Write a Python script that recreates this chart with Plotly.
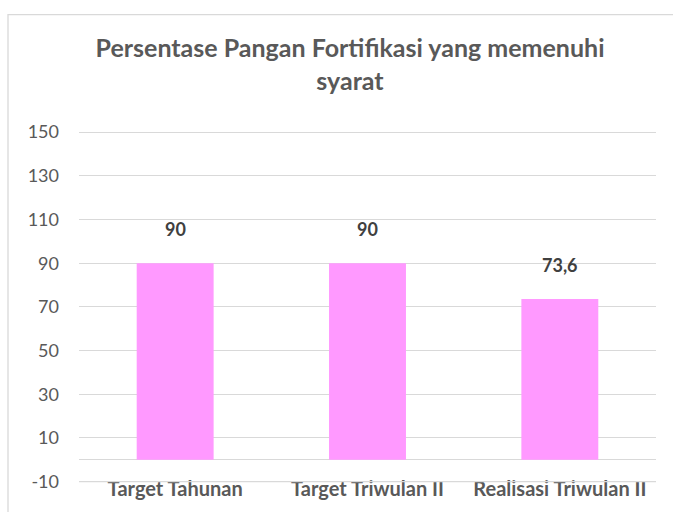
import plotly.graph_objects as go

categories = ["Target Tahunan", "Target Triwulan II", "Realisasi Triwulan II"]
values = [90, 90, 73.6]
y_ticks = [-10, 10, 30, 50, 70, 90, 110, 130, 150]
title_text = "Persentase Pangan Fortifikasi yang memenuhi<br>syarat"

FONT = "Lato"
GRID = "#D9D9D9"
fig = go.Figure()
fig.add_trace(go.Bar(
    x=categories, y=values, width=0.4,
    marker=dict(color="#FF99FF", line=dict(width=0)),
    hoverinfo="skip",
))

for c, v in zip(categories, values):
    fig.add_annotation(
        x=c, y=v, xref="x", yref="y",
        text=("%g" % v).replace(".", ","),
        showarrow=False, yanchor="middle", yshift=34,
        font=dict(family=FONT, size=18, color="#404040", weight="bold"),
    )

# outer chart border (extends beyond the visible image)
fig.add_shape(type="rect", xref="paper", yref="paper",
              x0=(8 - 79) / 577, x1=1.3, y0=-0.3, y1=(490.4 - 13) / 360.6,
              line=dict(color=GRID, width=1.3), fillcolor="rgba(0,0,0,0)",
              layer="below")
# make sure the lowest gridline is drawn
fig.add_shape(type="line", xref="paper", yref="y", x0=0, x1=1,
              y0=y_ticks[0], y1=y_ticks[0], line=dict(color=GRID, width=1.2),
              layer="above")

fig.update_layout(
    width=673, height=512, autosize=False,
    margin=dict(l=79, r=17, t=129.8, b=21.6),
    paper_bgcolor="white", plot_bgcolor="white",
    showlegend=False,
    title=dict(text=title_text, x=350 / 673, xanchor="center", xref="container",
               y=1 - 57 / 512, yanchor="top", yref="container",
               font=dict(family=FONT, size=25, color="#595959", weight="bold")),
)
fig.update_yaxes(
    range=[-12, 151], tickvals=y_ticks, ticktext=[str(t) for t in y_ticks],
    showgrid=True, gridcolor=GRID, gridwidth=1,
    zeroline=True, zerolinecolor=GRID, zerolinewidth=1,
    showline=False, ticks="", ticklabelstandoff=19,
    tickfont=dict(family=FONT, size=18, color="#595959"),
)
fig.update_xaxes(
    showgrid=False, showline=False, ticks="", ticklabelstandoff=-11,
    tickfont=dict(family=FONT, size=20, color="#595959", weight="bold"),
)
fig.write_html("out.html", config={"displayModeBar": False},
               post_script="document.body.style.margin='0';document.body.style.padding='0';")
